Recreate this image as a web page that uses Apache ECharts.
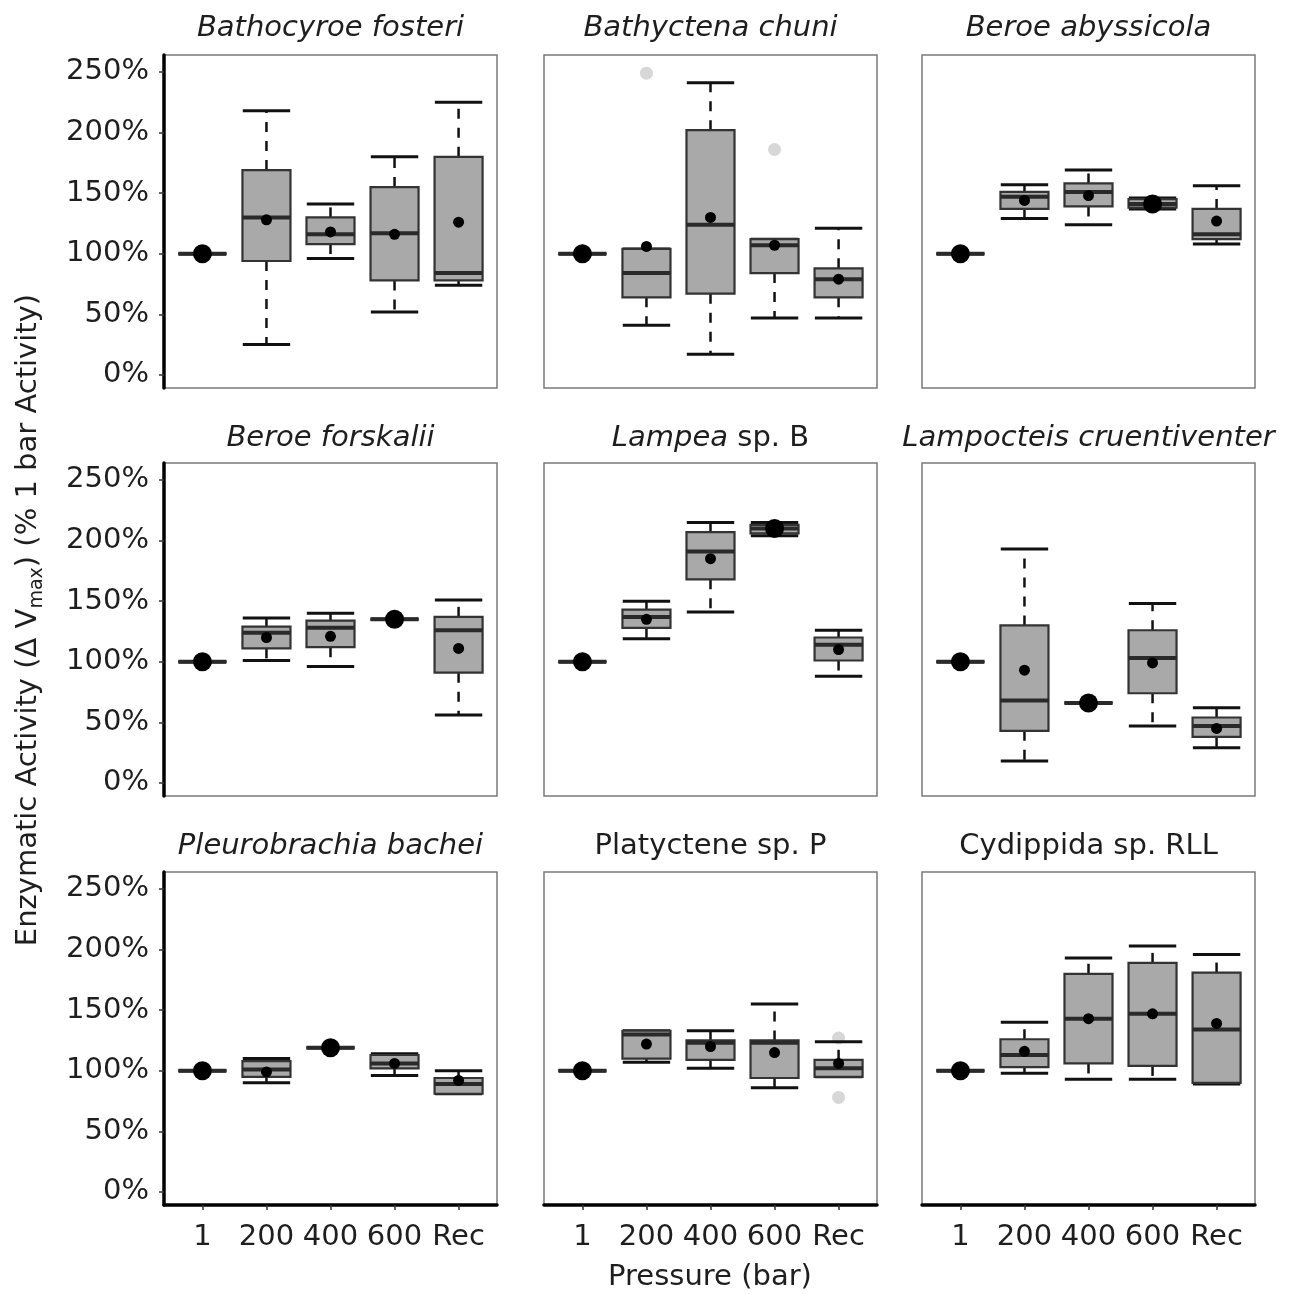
<!DOCTYPE html>
<html>
<head>
<meta charset="utf-8">
<script src="https://cdn.jsdelivr.net/npm/echarts@6/dist/echarts.min.js"></script>
<style>
html,body{margin:0;padding:0;background:#fff;}
#chart{width:1289px;height:1294px;}
</style>
</head>
<body>
<div id="chart"></div>
<script>
// ---------- DATA ----------
const categories = ['1', '200', '400', '600', 'Rec'];
const yTickValues = [0, 50, 100, 150, 200, 250];
const panelTitles = [
  '{i|Bathocyroe fosteri}', '{i|Bathyctena chuni}', '{i|Beroe abyssicola}',
  '{i|Beroe forskalii}', '{i|Lampea}{n| sp. B}', '{i|Lampocteis cruentiventer}',
  '{i|Pleurobrachia bachei}', '{n|Platyctene sp. P}', '{n|Cydippida sp. RLL}'
];
// rows = categories; columns = [lower whisker, Q1, median, Q3, upper whisker, mean]
const bathocyroeFosteri = [
  [100, 100, 100, 100, 100, 100],
  [25, 94, 130, 169, 218, 128],
  [96, 108, 116, 130, 141, 118],
  [52, 78, 117, 155, 180, 116],
  [74, 78, 84, 180, 225, 126]
];
const bathyctenaChuni = [
  [100, 100, 100, 100, 100, 100],
  [41, 64, 84, 104, 104, 106],
  [17, 67, 124, 202, 241, 130],
  [47, 84, 107, 112, 112, 107],
  [47, 64, 79, 88, 121, 79]
];
const beroeAbyssicola = [
  [100, 100, 100, 100, 100, 100],
  [129, 137, 147, 151, 157, 144],
  [124, 139, 151, 158, 169, 148],
  [137, 138, 141, 145, 146, 141],
  [108, 112, 116, 137, 156, 127]
];
const beroeForskalii = [
  [100, 100, 100, 100, 100, 100],
  [101, 111, 124, 129, 136, 120],
  [96, 112, 128, 134, 140, 121],
  [135, 135, 135, 135, 135, 135],
  [56, 91, 126, 137, 151, 111]
];
const lampeaSpB = [
  [100, 100, 100, 100, 100, 100],
  [119, 128, 137, 143, 150, 135],
  [141, 168, 191, 207, 215, 185],
  [204, 206, 210, 213, 215, 210],
  [88, 101, 114, 120, 126, 110]
];
const lampocteisCruentiventer = [
  [100, 100, 100, 100, 100, 100],
  [18, 43, 68, 130, 193, 93],
  [66, 66, 66, 66, 66, 66],
  [47, 74, 103, 126, 148, 99],
  [29, 38, 47, 54, 62, 45]
];
const pleurobrachiaBachei = [
  [100, 100, 100, 100, 100, 100],
  [90, 95, 101, 108, 110, 99],
  [119, 119, 119, 119, 119, 119],
  [96, 102, 106, 113, 114, 106],
  [81, 81, 89, 94, 100, 92]
];
const platycteneSpP = [
  [100, 100, 100, 100, 100, 100],
  [107, 110, 130, 133, 133, 122],
  [102, 109, 123, 125, 133, 120],
  [86, 94, 123, 125, 155, 115],
  [95, 95, 102, 109, 124, 106]
];
const cydippidaSpRLL = [
  [100, 100, 100, 100, 100, 100],
  [98, 103, 113, 126, 140, 116],
  [93, 106, 143, 180, 193, 143],
  [93, 104, 147, 189, 203, 147],
  [89, 90, 134, 181, 196, 139]
];
// outliers: [panel index, category index, value]
const outliers = [
  [1, 1, 249], [1, 3, 186],
  [7, 4, 127], [7, 4, 78]
];
const panels = [
  bathocyroeFosteri, bathyctenaChuni, beroeAbyssicola,
  beroeForskalii, lampeaSpB, lampocteisCruentiventer,
  pleurobrachiaBachei, platycteneSpP, cydippidaSpRLL
];

// ---------- LAYOUT ----------
const FONT = 'DejaVu Sans';
const TXT = '#1e1e1e';
const colLeft = [164, 544, 922];
const rowTop = [55, 463, 872];
const PW = 333, PH = 333;

const grids = [], xAxes = [], yAxes = [], series = [], graphics = [];

function renderBox(params, api) {
  const x = api.value(0);
  const lo = api.value(1), q1 = api.value(2), md = api.value(3),
        q3 = api.value(4), hi = api.value(5), mn = api.value(6);
  const cx = api.coord([x, md])[0];
  const y = v => api.coord([x, v])[1];
  const yLo = y(lo), yQ1 = y(q1), yMd = y(md), yQ3 = y(q3), yHi = y(hi), yMn = y(mn);
  const bw = api.size([0.75, 0])[0];
  const cw = api.size([0.74, 0])[0];
  const r = (q3 - q1) < 10 ? 9.5 : 5.5;
  const ch = [];
  const wStyle = {stroke: '#111', lineWidth: 2.5, lineDash: [10, 9]};
  if (yQ3 - yHi > 0.5) ch.push({type: 'line', shape: {x1: cx, y1: yQ3, x2: cx, y2: yHi}, style: wStyle});
  if (yLo - yQ1 > 0.5) ch.push({type: 'line', shape: {x1: cx, y1: yQ1, x2: cx, y2: yLo}, style: wStyle});
  ch.push({type: 'line', shape: {x1: cx - cw / 2, y1: yHi, x2: cx + cw / 2, y2: yHi}, style: {stroke: '#111', lineWidth: 3}});
  ch.push({type: 'line', shape: {x1: cx - cw / 2, y1: yLo, x2: cx + cw / 2, y2: yLo}, style: {stroke: '#111', lineWidth: 3}});
  ch.push({type: 'rect', shape: {x: cx - bw / 2, y: yQ3, width: bw, height: yQ1 - yQ3},
           style: {fill: '#a9a9a9', stroke: '#333', lineWidth: 2.2}});
  ch.push({type: 'line', shape: {x1: cx - bw / 2, y1: yMd, x2: cx + bw / 2, y2: yMd}, style: {stroke: '#2a2a2a', lineWidth: 4}});
  ch.push({type: 'circle', shape: {cx: cx, cy: yMn, r: r}, style: {fill: '#000'}});
  return {type: 'group', children: ch};
}

panels.forEach((rows, i) => {
  const col = i % 3, row = Math.floor(i / 3);
  const isLeft = col === 0, isBottom = row === 2;
  grids.push({left: colLeft[col], top: rowTop[row], width: PW, height: PH,
              show: true, borderColor: '#7a7a7a', borderWidth: 1.5, backgroundColor: '#fff'});
  xAxes.push({
    type: 'value', gridIndex: i, min: -0.6, max: 4.6,
    axisLine: {show: isBottom, onZero: false, lineStyle: {color: '#000', width: 3.5}},
    axisTick: {show: isBottom, customValues: [0, 1, 2, 3, 4], length: 5, lineStyle: {color: '#333', width: 1.5}},
    axisLabel: {show: isBottom, customValues: [0, 1, 2, 3, 4], formatter: v => categories[Math.round(v)],
                fontSize: 29, fontFamily: FONT, color: TXT, margin: 18},
    splitLine: {show: false}
  });
  yAxes.push({
    type: 'value', gridIndex: i, min: -10.8, max: 264,
    axisLine: {show: isLeft, onZero: false, lineStyle: {color: '#000', width: 3.5}},
    axisTick: {show: isLeft, customValues: yTickValues, length: 5, lineStyle: {color: '#333', width: 1.5}},
    axisLabel: {show: isLeft, customValues: yTickValues, formatter: v => v + '%',
                fontSize: 29, fontFamily: FONT, color: TXT, margin: 15},
    splitLine: {show: false}
  });
  series.push({
    type: 'custom', xAxisIndex: i, yAxisIndex: i, renderItem: renderBox,
    encode: {x: 0, y: [1, 2, 3, 4, 5, 6]},
    data: rows.map((r, k) => [k].concat(r)), z: 3
  });
  const outs = outliers.filter(o => o[0] === i).map(o => [o[1], o[2]]);
  if (outs.length) {
    series.push({type: 'scatter', xAxisIndex: i, yAxisIndex: i, data: outs,
                 symbolSize: 13, itemStyle: {color: '#cdcdcd'}, z: 2});
  }
  const titleY = [28, 438, 846][row];
  graphics.push({
    type: 'text', x: colLeft[col] + PW / 2, y: titleY,
    style: {
      text: panelTitles[i], align: 'center', verticalAlign: 'middle', fill: TXT,
      fontSize: 29, fontFamily: FONT,
      rich: {
        i: {fontStyle: 'italic', fontSize: 29, fontFamily: FONT, fill: TXT},
        n: {fontStyle: 'normal', fontSize: 29, fontFamily: FONT, fill: TXT}
      }
    }
  });
});

graphics.push({
  type: 'text', x: 710, y: 1277,
  style: {text: 'Pressure (bar)', align: 'center', verticalAlign: 'middle', fill: TXT, fontSize: 29, fontFamily: FONT}
});
graphics.push({
  type: 'text', x: 28, y: 620, rotation: Math.PI / 2,
  style: {
    text: '{n|Enzymatic Activity (Δ V}{s|max}{n|) (% 1 bar Activity)}',
    align: 'center', verticalAlign: 'middle', fill: TXT, fontSize: 29, fontFamily: FONT,
    rich: {
      n: {fontSize: 29, fontFamily: FONT, fill: TXT, lineHeight: 38, verticalAlign: 'middle'},
      s: {fontSize: 19, fontFamily: FONT, fill: TXT, lineHeight: 20, verticalAlign: 'bottom'}
    }
  }
});

const chart = echarts.init(document.getElementById('chart'));
chart.setOption({
  animation: false,
  backgroundColor: '#fff',
  grid: grids, xAxis: xAxes, yAxis: yAxes, series: series,
  graphic: {elements: graphics}
});
</script>
</body>
</html>
